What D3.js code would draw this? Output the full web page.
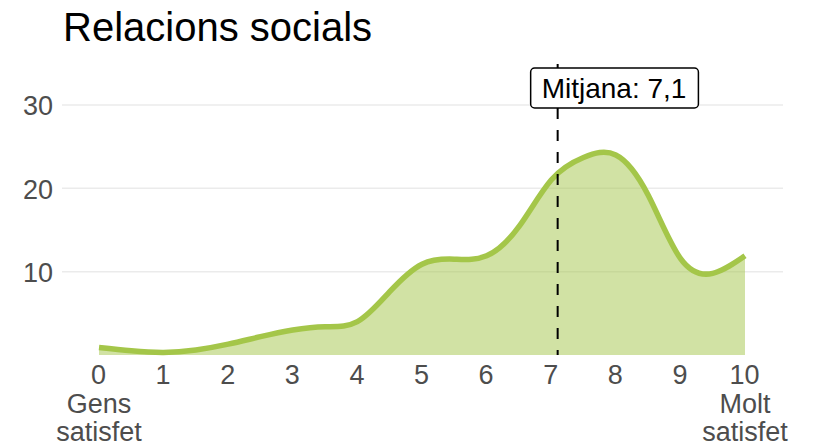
<!DOCTYPE html>
<html>
<head>
<meta charset="utf-8">
<script src="https://cdn.jsdelivr.net/npm/d3@7"></script>
<style>
  body { margin: 0; background: #fff; }
  svg text { font-family: "Liberation Sans", Arial, sans-serif; }
</style>
</head>
<body>
<div id="chartHolder"></div>
<script>
// values (score 0-10 -> percentage)
const scores = [0, 0.5, 1, 1.5, 2, 2.5, 3, 3.5, 4, 4.5, 5, 5.5, 6, 6.5, 7, 7.5, 8, 8.5, 9, 9.5, 10];
const pct    = [0.9, 0.5, 0.3, 0.6, 1.3, 2.2, 3.0, 3.4, 4.0, 7.6, 10.9, 11.5, 11.9, 15.4, 21.0, 23.7, 24.0, 19.2, 11.6, 9.8, 11.9];
const xTicks = [0, 1, 2, 3, 4, 5, 6, 7, 8, 9, 10];
const yTicks = [10, 20, 30];
const meanVal = 7.1;
const meanLabel = "Mitjana: 7,1";
const lowLabel = ["Gens", "satisfet"];
const highLabel = ["Molt", "satisfet"];
const title = "Relacions socials";

const w = 818, h = 446;
const green = "#a4c649";

const svg = d3.select("#chartHolder").append("svg")
  .attr("width", w)
  .attr("height", h);

const x = d3.scaleLinear().domain([0, 10]).range([99, 745]);
const y = d3.scaleLinear().domain([0, 30]).range([355, 105]);

// title
svg.append("text")
  .attr("x", 63).attr("y", 41)
  .attr("font-size", 40)
  .attr("fill", "#000")
  .text(title);

// gridlines
svg.append("g").selectAll("line")
  .data(yTicks)
  .enter().append("line")
    .attr("x1", 62).attr("x2", 783)
    .attr("y1", d => y(d)).attr("y2", d => y(d))
    .attr("stroke", "#ebebeb")
    .attr("stroke-width", 1.5);

// y axis labels
const yAxis = d3.axisLeft(y).tickValues(yTicks).tickSize(0).tickPadding(0);
svg.append("g")
  .attr("transform", "translate(53,0)")
  .call(yAxis)
  .call(g => g.select(".domain").remove())
  .call(g => g.selectAll("text")
    .attr("font-size", 27)
    .attr("font-family", "Liberation Sans, Arial, sans-serif")
    .attr("fill", "#4d4d4d")
    .attr("dy", "0.36em"));

// x axis labels
const xAxis = d3.axisBottom(x).tickValues(xTicks).tickSize(0).tickPadding(0);
svg.append("g")
  .attr("transform", "translate(-1,365)")
  .call(xAxis)
  .call(g => g.select(".domain").remove())
  .call(g => g.selectAll("text")
    .attr("font-size", 27)
    .attr("font-family", "Liberation Sans, Arial, sans-serif")
    .attr("fill", "#4d4d4d")
    .attr("dy", "0.71em"));

// end labels under 0 and 10
function endLabel(lines, v) {
  const t = svg.append("text")
    .attr("text-anchor", "middle")
    .attr("font-size", 27)
    .attr("fill", "#4d4d4d");
  lines.forEach((s, i) => {
    t.append("tspan")
      .attr("x", x(v))
      .attr("y", 413 + i * 27.5)
      .text(s);
  });
}
endLabel(lowLabel, 0);
endLabel(highLabel, 10);

const data = scores.map((s, i) => ({ s: s, p: pct[i] }));

// area + line (smooth density-like curve)
svg.append("path")
  .datum(data)
  .attr("fill", green)
  .attr("fill-opacity", 0.5)
  .attr("d", d3.area()
    .x(d => x(d.s))
    .y0(y(0))
    .y1(d => y(d.p))
    .curve(d3.curveNatural));

svg.append("path")
  .datum(data)
  .attr("fill", "none")
  .attr("stroke", green)
  .attr("stroke-width", 5.5)
  .attr("d", d3.line()
    .x(d => x(d.s))
    .y(d => y(d.p))
    .curve(d3.curveNatural));

// mean line
svg.append("line")
  .attr("x1", x(meanVal)).attr("x2", x(meanVal))
  .attr("y1", 64).attr("y2", y(0))
  .attr("stroke", "#000")
  .attr("stroke-width", 2)
  .attr("stroke-dasharray", "11,11");

// mean label
const lab = svg.append("g");
const labText = lab.append("text")
  .attr("x", x(meanVal) - 16)
  .attr("y", 98)
  .attr("font-size", 28)
  .attr("fill", "#000")
  .text(meanLabel);
const bb = labText.node().getBBox();
lab.insert("rect", "text")
  .attr("x", bb.x - 11)
  .attr("y", 68)
  .attr("width", bb.width + 23)
  .attr("height", 40)
  .attr("rx", 4)
  .attr("fill", "#fff")
  .attr("stroke", "#000")
  .attr("stroke-width", 1.5);
</script>
</body>
</html>
